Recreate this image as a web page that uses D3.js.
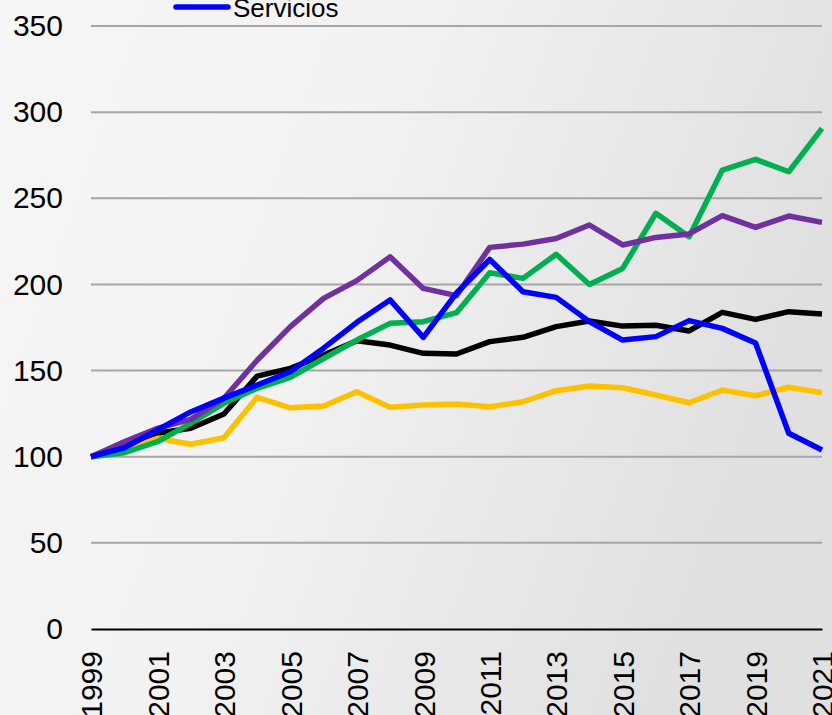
<!DOCTYPE html>
<html><head><meta charset="utf-8">
<script src="https://cdn.jsdelivr.net/npm/d3@7/dist/d3.min.js"></script>
<style>html,body{margin:0;padding:0;overflow:hidden;background:#f2f2f2}</style>
</head><body>
<svg id="c" width="832" height="715"></svg>
<script>
const years = d3.range(1999, 2022);
const yTicks = [0, 50, 100, 150, 200, 250, 300, 350];
const xTickYears = [1999, 2001, 2003, 2005, 2007, 2009, 2011, 2013, 2015, 2017, 2019, 2021];

const black  = [100,104.9,113.6,116.5,124.8,146.8,151.3,159,167.3,164.8,160,159.6,166.8,169.3,175.5,178.8,175.8,176.3,173,183.8,179.7,184.2,182.8];
const yellow = [100,103.5,110.7,107.2,111,134.5,128.4,129.4,137.7,128.7,130,130.6,129,131.9,138.3,141,140,135.8,131.3,138.7,135.4,140.3,137.1];
const green  = [100,102.3,108.7,119.4,131,139.7,146,157,167.7,177.4,178.4,183.6,206.8,203.5,217.5,200,209.3,241.3,227.7,266.4,272.6,265.4,290.6];
const purple = [100,108.7,116.5,121.7,133.9,156,175.5,191.9,202.2,216,197.7,193.5,221.5,223.4,226.7,234.5,222.9,227.3,229.3,239.9,233.1,239.7,236];
const blue   = [100,105.2,115.5,126,134,141.6,149.3,163,178,191,169.3,195,214.5,195.8,192.5,178.4,167.7,169.7,179,174.5,166,113.6,103.9];

const seriesNames = ["Total", "Bienes", "Industria", "Otros", "Servicios"];
const seriesColors = ["#000000", "#ffc000", "#00b050", "#7030a0", "#0000ff"];
const seriesData = [black, yellow, green, purple, blue];

const svg = d3.select("#c");
const W = 832, H = 715;
const defs = svg.append("defs");
const g1 = defs.append("linearGradient").attr("id","bg").attr("x1","0").attr("y1","0").attr("x2","1").attr("y2","0.3");
g1.append("stop").attr("offset","0").attr("stop-color","#f6f6f6");
g1.append("stop").attr("offset","0.45").attr("stop-color","#f2f2f2");
g1.append("stop").attr("offset","1").attr("stop-color","#e0e0e0");
svg.append("rect").attr("width",W).attr("height",H).attr("fill","url(#bg)");

const x = d3.scaleLinear().domain([1999, 2021]).range([91, 822]);
const y = d3.scaleLinear().domain([0, 350]).range([629, 26]);

// gridlines
svg.append("g").selectAll("line").data(yTicks.filter(d => d > 0)).join("line")
  .attr("x1", 91).attr("x2", 822)
  .attr("y1", d => y(d)).attr("y2", d => y(d))
  .attr("stroke", "#a6a6a6").attr("stroke-width", 2);

// y axis labels
const yAxis = d3.axisLeft(y).tickValues(yTicks).tickSize(0).tickPadding(28);
const ya = svg.append("g").attr("transform", "translate(91,0)").call(yAxis);
ya.select(".domain").remove();
ya.selectAll("text").attr("font-family", "Arial, 'Liberation Sans', sans-serif")
  .attr("font-size", 30).attr("fill", "#000");

// x axis
const xAxis = d3.axisBottom(x).tickValues(xTickYears).tickSize(0).tickFormat(d3.format("d"));
const xa = svg.append("g").attr("transform", "translate(0,629)").call(xAxis);
xa.select(".domain").attr("stroke", "#000").attr("stroke-width", 2);
xa.selectAll("text")
  .attr("font-family", "Arial, 'Liberation Sans', sans-serif")
  .attr("font-size", 30).attr("fill", "#000")
  .attr("transform", "rotate(-90)")
  .attr("text-anchor", "end")
  .attr("x", -22).attr("y", 0).attr("dy", "0.36em");

// lines
const line = d3.line().x((d, i) => x(years[i])).y(d => y(d));
svg.append("g").selectAll("path").data(seriesData).join("path")
  .attr("d", d => line(d))
  .attr("fill", "none")
  .attr("stroke", (d, i) => seriesColors[i])
  .attr("stroke-width", 5.5)
  .attr("stroke-linejoin", "round");

// legend (only the last entry is visible in the frame)
const lg = svg.append("g");
lg.append("line").attr("x1", 176).attr("x2", 228).attr("y1", 7).attr("y2", 7)
  .attr("stroke", seriesColors[4]).attr("stroke-width", 5.5).attr("stroke-linecap", "round");
lg.append("text").attr("x", 233).attr("y", 17)
  .attr("font-family", "Arial, 'Liberation Sans', sans-serif").attr("font-size", 26)
  .text(seriesNames[4]);
</script>
</body></html>
